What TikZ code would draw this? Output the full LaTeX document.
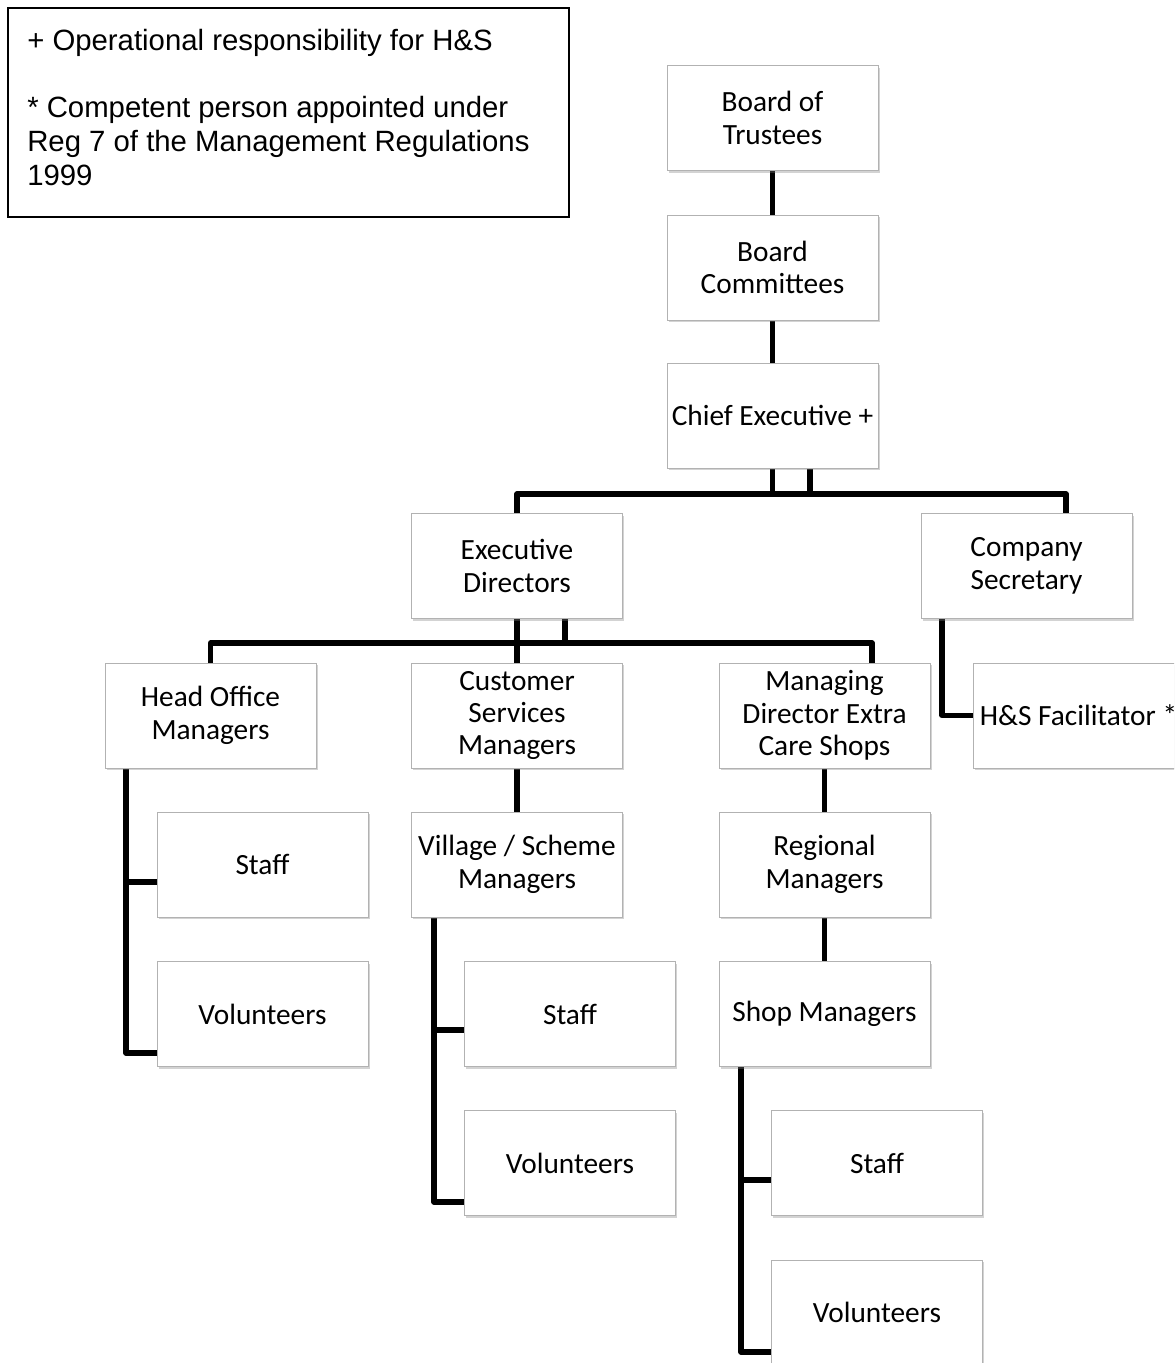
\documentclass[tikz,border=0pt]{standalone}
\usepackage{fontspec}
\setmainfont{Carlito}
\newfontfamily\keyfont{Liberation Sans}
\usetikzlibrary{shadows,backgrounds}

\tikzset{
  post/.style={draw=gray!60, line width=0.6pt, fill=white,
    minimum width=158.25pt, minimum height=78.75pt, inner sep=0pt,
    align=center, font=\fontsize{22}{24.3}\selectfont,
    drop shadow={shadow xshift=1.3pt, shadow yshift=-1.8pt, opacity=0.35}},
  link/.style={line width=4pt, line join=round, black},
  keyframe/.style={draw=black, line width=1.1pt},
  keytext/.style={inner sep=0pt, align=left, font=\keyfont\fontsize{22}{25.3}\selectfont},
}

\begin{document}
\begin{tikzpicture}[x=0.75pt, y=-0.75pt]

    % Area della pagina (come l'originale, tagliata a destra e in basso)
    \path[use as bounding box, clip] (0,0) rectangle (1174,1363);

    % Legenda
    \draw[keyframe] (8,8) rectangle (569,217);
    \node[keytext, anchor=north west] (key) at (27,29)
        {+ Operational responsibility for H\&S\\[25.3pt]
         * Competent person appointed under\\
         Reg 7 of the Management Regulations\\
         1999};

    % Vertice dell'organizzazione
    \node[post] (trustees)   at (772.5,118)   {Board of\\Trustees};
    \node[post] (committees) at (772.5,267.5) {Board\\Committees};
    \node[post] (chief)      at (772.5,415.5) {Chief Executive +};

    % Secondo livello
    \node[post] (execdir) at (517,566)    {Executive\\Directors};
    \node[post] (compsec) at (1026.5,566) {Company\\Secretary};

    % Terzo livello
    \node[post] (headoff)  at (210.5,715.5)  {Head Office\\Managers};
    \node[post] (custserv) at (517,715.5)    {Customer\\Services\\Managers};
    \node[post] (mdshops)  at (824.5,715.5)  {Managing\\Director Extra\\Care Shops};
    \node[post] (facil)    at (1078.5,715.5) {H\&S Facilitator *};

    % Rami inferiori
    \node[post] (hostaff)  at (262.5,864.5) {Staff};
    \node[post] (hovol)    at (262.5,1014)  {Volunteers};
    \node[post] (village)  at (517,864.5)   {Village / Scheme\\Managers};
    \node[post] (vsstaff)  at (570,1014)    {Staff};
    \node[post] (vsvol)    at (570,1163)    {Volunteers};
    \node[post] (regional) at (824.5,864.5) {Regional\\Managers};
    \node[post] (shopman)  at (824.5,1014)  {Shop Managers};
    \node[post] (smstaff)  at (877,1163)    {Staff};
    \node[post] (smvol)    at (877,1312.5)  {Volunteers};

    % Punti di giunzione delle linee
    \coordinate (bar1a) at (772.5,494);
    \coordinate (bar1b) at (810,494);
    \coordinate (bar1e) at (1066,494);
    \coordinate (bar2a) at (565,643);
    \coordinate (bar2e) at (872,643);
    \coordinate (csx)   at (942,715.5);
    \coordinate (hoA) at (126,882);
    \coordinate (hoB) at (126,1053);
    \coordinate (vsA) at (434,1030);
    \coordinate (vsB) at (434,1202);
    \coordinate (smA) at (741,1180);
    \coordinate (smB) at (741,1352);

    % Linee di collegamento (sotto i riquadri)
    \begin{scope}[on background layer]
        \draw[link] (trustees) -- (committees);
        \draw[link] (committees) -- (chief);

        \draw[link] (chief.south) -- (bar1a);
        \draw[link] (chief.south -| bar1b) -- (bar1b);
        \draw[link] (execdir.north) |- (bar1e) -- (bar1e |- compsec.north);

        \draw[link] (execdir.south) -- (custserv.north);
        \draw[link] (execdir.south -| bar2a) -- (bar2a);
        \draw[link] (headoff.north) |- (bar2e) -- (bar2e |- mdshops.north);

        \draw[link] (compsec.south -| csx) |- (facil.west);

        \draw[link] (headoff.south -| hoA) -- (hoB) -- (hoB -| hovol.west);
        \draw[link] (hoA) -- (hoA -| hostaff.west);

        \draw[link] (custserv) -- (village);
        \draw[link] (village.south -| vsA) -- (vsB) -- (vsB -| vsvol.west);
        \draw[link] (vsA) -- (vsA -| vsstaff.west);

        \draw[link] (mdshops) -- (regional);
        \draw[link] (regional) -- (shopman);
        \draw[link] (shopman.south -| smA) -- (smB) -- (smB -| smvol.west);
        \draw[link] (smA) -- (smA -| smstaff.west);
    \end{scope}

\end{tikzpicture}
\end{document}
